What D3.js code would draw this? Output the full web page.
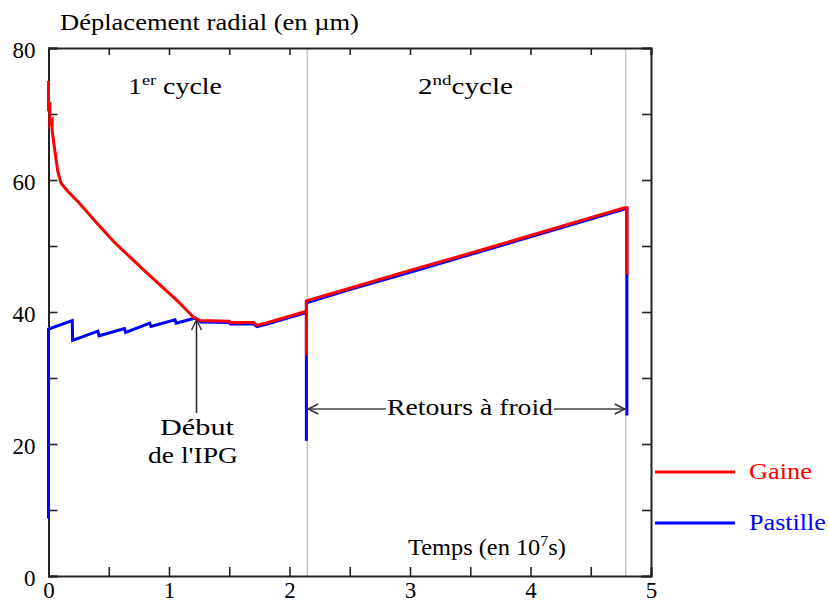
<!DOCTYPE html>
<html><head><meta charset="utf-8">
<script src="https://cdn.jsdelivr.net/npm/d3@7"></script>
<style>
body{margin:0;background:#fff;}
svg text{font-family:"Liberation Serif","Times New Roman",serif;}
</style></head>
<body><svg id="c" width="829" height="603"></svg>
<script>
// ---- data ----
const redT = [0, 0, 0.012, 0.012, 0.03, 0.03, 0.05, 0.077, 0.105, 0.16, 0.24, 0.41, 0.55, 0.80, 1.07, 1.21, 1.26, 1.50, 1.51, 1.70, 1.73, 1.80, 2.14, 2.14, 2.14, 2.50, 3.00, 3.50, 4.00, 4.50, 4.78, 4.80, 4.80];
const redY = [75.0, 71.0, 71.3, 68.5, 69.0, 67.5, 64.8, 61.3, 59.5, 58.3, 56.8, 53.3, 50.5, 46.2, 41.7, 39.1, 38.7, 38.6, 38.4, 38.4, 38.0, 38.3, 40.1, 33.4, 41.7, 43.6, 46.3, 48.9, 51.6, 54.3, 55.8, 55.8, 45.7];
const blueT = [0, 0, 0.197, 0.20, 0.41, 0.42, 0.63, 0.64, 0.84, 0.85, 1.05, 1.06, 1.22, 1.26, 1.50, 1.51, 1.70, 1.73, 1.80, 2.14, 2.14, 2.14, 2.50, 3.00, 3.50, 4.00, 4.50, 4.78, 4.80, 4.80];
const blueY = [8.7, 37.4, 38.7, 35.7, 37.1, 36.4, 37.5, 36.9, 38.3, 37.8, 38.8, 38.3, 39.1, 38.5, 38.4, 38.2, 38.2, 37.8, 38.1, 39.9, 20.5, 41.4, 43.4, 46.0, 48.7, 51.4, 54.1, 55.6, 55.6, 24.3];
const cycleBounds = [2.147, 4.79];
const xTickLabels = [0, 1, 2, 3, 4, 5];
const yTickLabels = [0, 20, 40, 60, 80];
const seriesNames = ["Gaine", "Pastille"];
const seriesColors = ["#ff0000", "#0000ff"];

// ---- layout ----
const svg = d3.select("#c");
const L = 48.5, R = 651, T = 48, B = 576;
const x = d3.scaleLinear().domain([0, 5]).range([L, R]);
const y = d3.scaleLinear().domain([0, 80]).range([B, T]);
const axisCol = "#222";

// cycle separators
svg.selectAll("line.sep").data(cycleBounds).join("line")
  .attr("x1", d => x(d)).attr("x2", d => x(d)).attr("y1", T).attr("y2", B)
  .attr("stroke", "#c4c4c4").attr("stroke-width", 1.5);

// axes
const minorX = d3.range(0, 5.01, 0.5);
const minorY = d3.range(0, 80.1, 10);
function styleAxis(g){
  g.select(".domain").attr("stroke", axisCol).attr("stroke-width", 2);
  g.selectAll(".tick line").attr("stroke", axisCol).attr("stroke-width", 1.6);
  g.selectAll("text").attr("font-family", "Liberation Serif, serif").attr("font-size", 23).attr("fill", "#000");
}
const gB = svg.append("g").attr("transform", `translate(0,${B})`)
  .call(d3.axisBottom(x).tickValues(minorX).tickSize(-9).tickPadding(5)
    .tickFormat(d => xTickLabels.includes(d) ? d3.format("d")(d) : ""));
styleAxis(gB);
gB.selectAll("text").attr("dy", "0.72em");
const gT = svg.append("g").attr("transform", `translate(0,${T})`)
  .call(d3.axisTop(x).tickValues(minorX).tickSize(-7).tickFormat(""));
styleAxis(gT);
const gL = svg.append("g").attr("transform", `translate(${L},0)`)
  .call(d3.axisLeft(y).tickValues(minorY).tickSize(-9).tickPadding(13)
    .tickFormat(d => yTickLabels.includes(d) ? d3.format("d")(d) : ""));
styleAxis(gL);
gL.selectAll("text").attr("dy", "0.42em");
const gR = svg.append("g").attr("transform", `translate(${R},0)`)
  .call(d3.axisRight(y).tickValues(minorY).tickSize(-9).tickFormat(""));
styleAxis(gR);

// series
const line = d3.line().x(d => x(d[0])).y(d => y(d[1]));
const blueData = blueT.map((t, i) => [t, blueY[i]]);
const redData = redT.map((t, i) => [t, redY[i]]);
svg.append("path").datum(blueData).attr("d", line).attr("fill", "none")
  .attr("stroke", seriesColors[1]).attr("stroke-width", 3);
svg.append("path").datum(redData).attr("d", line).attr("fill", "none")
  .attr("stroke", seriesColors[0]).attr("stroke-width", 3);

// arrow markers
const defs = svg.append("defs");
defs.append("marker").attr("id", "arr").attr("viewBox", "0 0 12 12").attr("refX", 11).attr("refY", 6)
  .attr("markerWidth", 12).attr("markerHeight", 12).attr("markerUnits", "userSpaceOnUse").attr("orient", "auto-start-reverse")
  .append("path").attr("d", "M1,1 L11,6 L1,11").attr("fill", "none").attr("stroke", "#333").attr("stroke-width", 1.4);

svg.append("line").attr("x1", 196.5).attr("x2", 196.5).attr("y1", 413).attr("y2", 320)
  .attr("stroke", "#222").attr("stroke-width", 1.5).attr("marker-end", "url(#arr)");
svg.append("line").attr("x1", 386).attr("x2", x(cycleBounds[0]) + 1).attr("y1", 409).attr("y2", 409)
  .attr("stroke", "#444").attr("stroke-width", 1.5).attr("marker-end", "url(#arr)");
svg.append("line").attr("x1", 554).attr("x2", x(cycleBounds[1]) - 1).attr("y1", 409).attr("y2", 409)
  .attr("stroke", "#444").attr("stroke-width", 1.5).attr("marker-end", "url(#arr)");

// texts: parts = [[str, sup?]], placed so its left edge / width match target
function addText(left, width, baseline, parts, color){
  const g = svg.append("g");
  const t = g.append("text").attr("x", 0).attr("y", 0).attr("font-size", 23).attr("fill", color || "#000");
  let sup = false;
  parts.forEach(p => {
    const ts = t.append("tspan").text(p[0]);
    if (p[1] && !sup) { ts.attr("font-size", 15).attr("dy", -9); sup = true; }
    else if (!p[1] && sup) { ts.attr("dy", 9); sup = false; }
  });
  const w = t.node().getComputedTextLength();
  const sx = width / w;
  g.attr("transform", `translate(${left},${baseline}) scale(${sx},1)`);
}
addText(60, 299, 30, [["Déplacement radial (en µm)"]]);
addText(128, 94, 94, [["1"], ["er", 1], [" cycle"]]);
addText(418, 95, 94, [["2"], ["nd", 1], ["cycle"]]);
addText(160, 74, 435, [["Début"]]);
addText(148, 90, 463, [["de l'IPG"]]);
addText(387, 166, 415, [["Retours à froid"]]);
addText(408, 158, 555, [["Temps (en 10"], ["7", 1], ["s)"]]);

// legend
const legY = [472, 523];
const legW = [63, 77];
seriesNames.forEach((n, i) => {
  svg.append("line").attr("x1", 655).attr("x2", 735).attr("y1", legY[i]).attr("y2", legY[i])
    .attr("stroke", seriesColors[i]).attr("stroke-width", 3);
  addText(749, legW[i], legY[i] + 7, [[n]], seriesColors[i]);
});
</script></body></html>
